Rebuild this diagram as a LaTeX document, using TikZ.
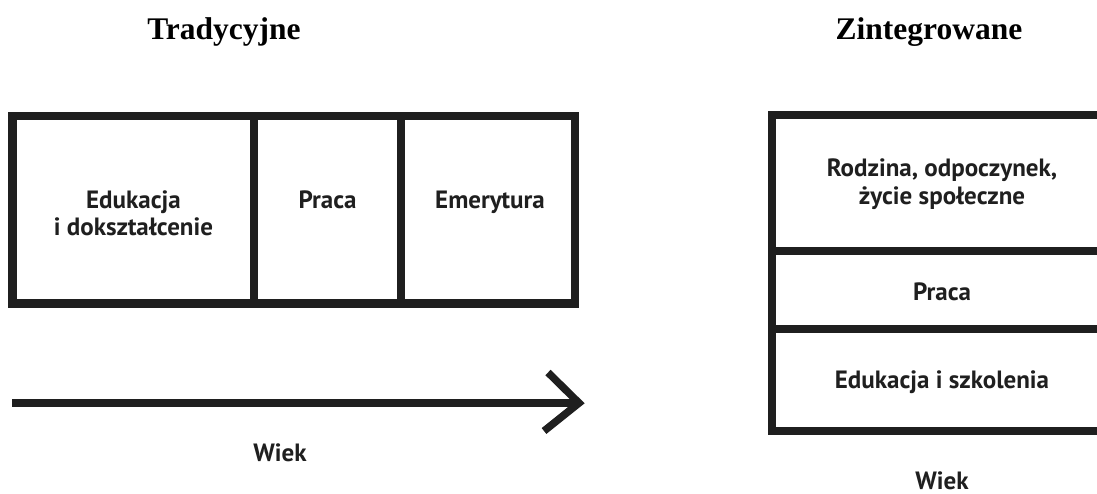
\documentclass[tikz,border=0pt]{standalone}
\usepackage{fontspec}
\setmainfont{Liberation Serif}
\newfontfamily\labelfont{PT Sans}
\begin{document}
\begin{tikzpicture}[x=1pt,y=-1pt,
  title/.style={font=\fontsize{31.5}{36}\selectfont\bfseries, inner sep=0pt, anchor=base},
  lcell/.style={draw=black!88, line width=8.8pt, inner sep=0pt, outer sep=0pt, rectangle},
  rcell/.style={draw=black!88, line width=8pt, inner sep=0pt, outer sep=0pt, rectangle},
  lab/.style={font=\labelfont\fontsize{25}{28}\selectfont\bfseries, text=black!88, inner sep=0pt, anchor=base},
  axisline/.style={draw=black!88, line width=7.5pt},
]
\useasboundingbox (0,0) rectangle (1097,494);
\clip (0,0) rectangle (1097,494);
\fill[white] (0,0) rectangle (1097,494);

% titles
\node[title] (t1) at (224,39.3) {Tradycyjne};
\node[title] (t2) at (929,39.3) {Zintegrowane};

% traditional boxes
\node[lcell, minimum width=241.2pt, minimum height=187.8pt] (edu) at (133.4,209.9) {};
\node[lcell, minimum width=147pt, minimum height=187.8pt] (praca1) at (327.5,209.9) {};
\node[lcell, minimum width=174pt, minimum height=187.8pt] (emer) at (488,209.9) {};
\node[lab] (edut1) at (133.4,209) {Edukacja};
\node[lab] (edut2) at (133.4,236) {i dokształcenie};
\node[lab] (prt1) at (327.5,209) {Praca};
\node[lab] (emt1) at (490,209) {Emerytura};

% arrow
\coordinate (a0) at (12,403);
\coordinate (a1) at (577,403);
\coordinate (atop) at (548,372.5);
\coordinate (abot) at (544,431);
\coordinate (atip) at (579,403);
\draw[axisline, line cap=butt] (a0) -- (a1);
\draw[axisline, line join=miter, line cap=butt] (atop) -- (atip) -- (abot);
\node[lab] (wiek1) at (280,461) {Wiek};

% integrated boxes
\node[rcell, minimum width=343.5pt, minimum height=136.5pt] (rodz) at (943.25,183.25) {};
\node[rcell, minimum width=343.5pt, minimum height=77.5pt] (praca2) at (943.25,290.25) {};
\node[rcell, minimum width=343.5pt, minimum height=101.5pt] (eduk2) at (943.25,379.75) {};
\node[lab] (rt1) at (942,177) {Rodzina, odpoczynek,};
\node[lab] (rt2) at (942,205) {życie społeczne};
\node[lab] (rt3) at (942,300) {Praca};
\node[lab] (rt4) at (942,388) {Edukacja i szkolenia};
\node[lab] (wiek2) at (942,489) {Wiek};
\end{tikzpicture}
\end{document}
